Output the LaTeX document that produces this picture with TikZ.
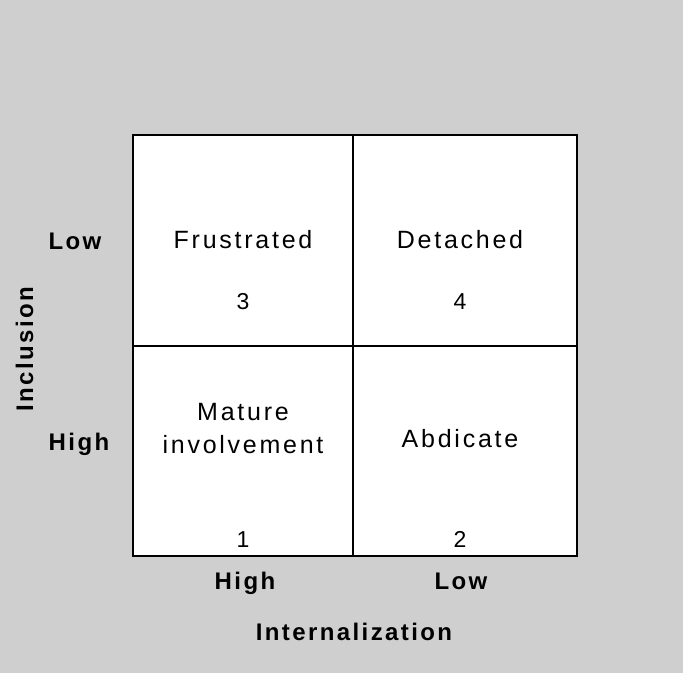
\documentclass[tikz,border=0pt]{standalone}
\usepackage{fontspec}
\setmainfont{Liberation Sans}
\newfontfamily\cellfont[LetterSpace=11]{Liberation Sans}
\newfontfamily\axisfont[LetterSpace=10]{Liberation Sans Bold}
\begin{document}
\begin{tikzpicture}[x=1pt,y=-1pt,
  celltext/.style={font=\cellfont\fontsize{25}{30}\selectfont, inner sep=0pt, anchor=base},
  numtext/.style={font=\cellfont\fontsize{23}{26}\selectfont, inner sep=0pt, anchor=base},
  axistext/.style={font=\axisfont\fontsize{24}{28}\selectfont, inner sep=0pt, anchor=base},
  frame/.style={line width=2.8pt},
  divider/.style={line width=1.8pt}]
  % paper background
  \fill[black!19] (0,0) rectangle (683,673);
  \useasboundingbox (0,0) rectangle (683,673);
  % the 2x2 grid
  \fill[white] (133,135) rectangle (577,556);
  \coordinate (tl) at (133,135);
  \coordinate (br) at (577,556);
  \coordinate (mt) at (353,135);
  \coordinate (mb) at (353,556);
  \coordinate (ml) at (133,346);
  \coordinate (mr) at (577,346);
  \draw[divider] (mt) -- (mb);
  \draw[divider] (ml) -- (mr);
  \draw[frame] (tl) rectangle (br);
  % cell labels
  \node[celltext] (frustrated) at (243,248) {Frustrated};
  \node[celltext] (detached) at (460,248) {Detached};
  \node[celltext] (mature) at (243,420) {Mature};
  \node[celltext] (involvement) at (243,453) {involvement};
  \node[celltext] (abdicate) at (460,447) {Abdicate};
  \node[numtext] (n3) at (243,309) {3};
  \node[numtext] (n4) at (460,309) {4};
  \node[numtext] (n1) at (243,547) {1};
  \node[numtext] (n2) at (460,547) {2};
  % axis labels
  \node[axistext] (ylow) at (75,249) {Low};
  \node[axistext] (yhigh) at (79,450) {High};
  \node[axistext, rotate=90] (incl) at (33,349) {Inclusion};
  \node[axistext] (xhigh) at (245,589) {High};
  \node[axistext] (xlow) at (461,589) {Low};
  \node[axistext] (intern) at (354,640) {Internalization};
\end{tikzpicture}
\end{document}
